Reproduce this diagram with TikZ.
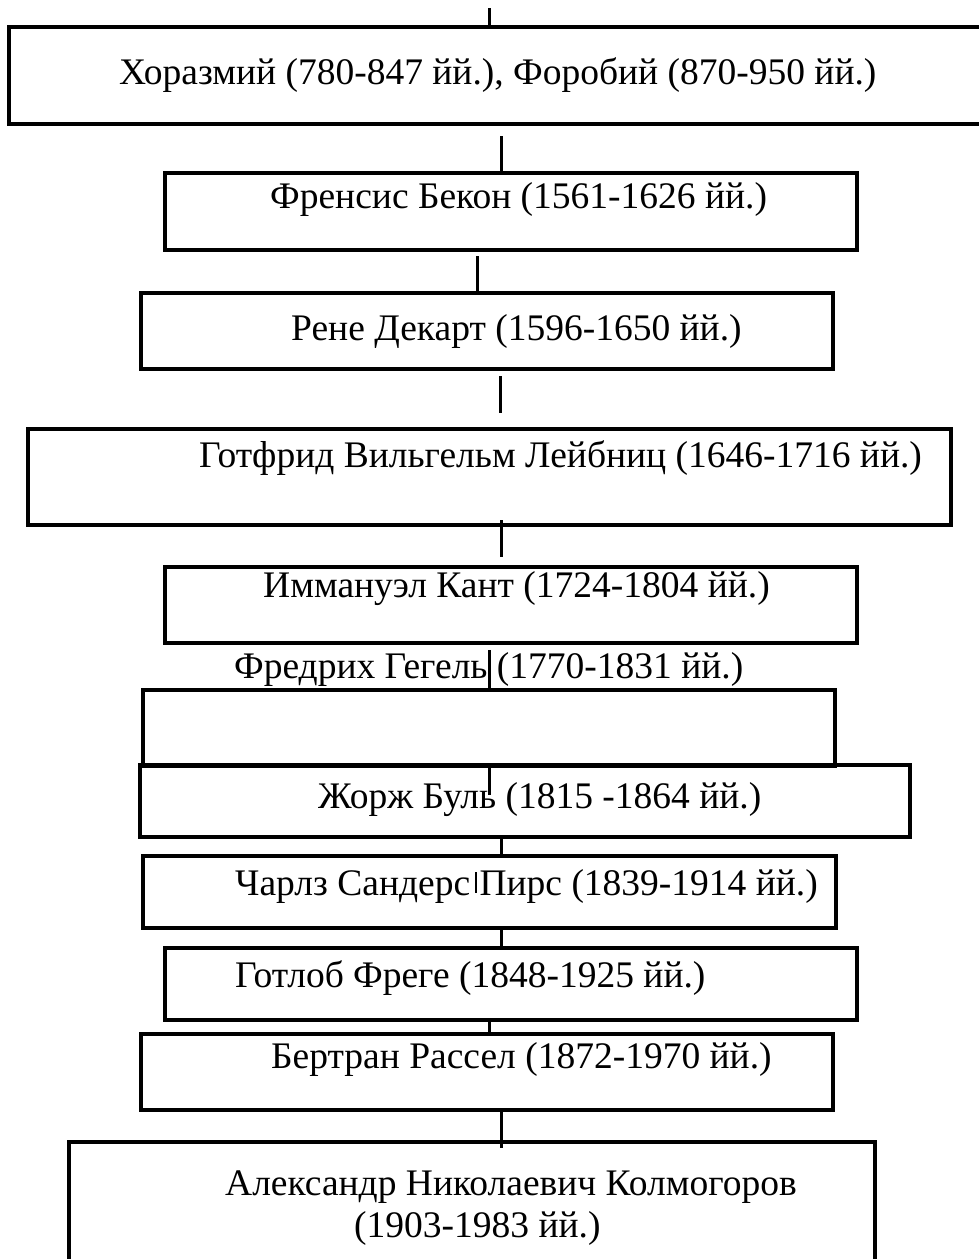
\documentclass[tikz,border=0pt]{standalone}
\usepackage{fontspec}
\setmainfont{Liberation Serif}
\begin{document}
\begin{tikzpicture}[x=1pt,y=-1pt,
  box/.style={draw=black,line width=4pt,rectangle,inner sep=0pt},
  txt/.style={anchor=base west,inner sep=0pt,font=\fontsize{37.5}{42}\selectfont},
  conn/.style={draw=black,line width=3pt},
  thinbar/.style={draw=black,line width=1.2pt}]
\useasboundingbox (0,0) rectangle (979,1259);
% boxes: (left,top) rectangle (right,bottom)
\newcommand{\mybox}[5]{\node[box,minimum width={#4-#2},minimum height={#5-#3}] (#1) at ({(#2+#4)/2},{(#3+#5)/2}) {};}
\mybox{b1}{9}{27}{995}{124}
\mybox{b2}{165}{173}{857}{250}
\mybox{b3}{141}{293}{833}{369}
\mybox{b4}{28}{429}{951}{525}
\mybox{b5}{165}{567}{857}{643}
\mybox{b6}{143}{690}{835}{766}
\mybox{b7}{140}{765}{910}{837}
\mybox{b8}{143}{856}{836}{928}
\mybox{b9}{165}{948}{857}{1020}
\mybox{b10}{141}{1034}{833}{1110}
\mybox{b11}{69}{1142}{875}{1285}
% texts
\node[txt] (t1) at (119,84) {Хоразмий (780-847 йй.), Форобий (870-950 йй.)};
\node[txt] (t2) at (270,208) {Френсис Бекон (1561-1626 йй.)};
\node[txt] (t3) at (291,340) {Рене Декарт (1596-1650 йй.)};
\node[txt] (t4) at (199,467) {Готфрид Вильгельм Лейбниц (1646-1716 йй.)};
\node[txt] (t5) at (263,597) {Иммануэл Кант (1724-1804 йй.)};
\node[txt] (t6) at (234,678) {Фредрих Гегель (1770-1831 йй.)};
\node[txt] (t7) at (318,808) {Жорж Буль (1815 -1864 йй.)};
\node[txt] (t8) at (235,895) {Чарлз Сандерс Пирс (1839-1914 йй.)};
\node[txt] (t9) at (235,987) {Готлоб Фреге (1848-1925 йй.)};
\node[txt] (t10) at (271,1068) {Бертран Рассел (1872-1970 йй.)};
\node[txt] (t11a) at (225,1195) {Александр Николаевич Колмогоров};
\node[txt] (t11b) at (354,1237) {(1903-1983 йй.)};
% connector end points
\coordinate (c0a) at (489,8);   \coordinate (c0b) at (489,28);
\coordinate (c1a) at (501,136); \coordinate (c1b) at (501,173);
\coordinate (c2a) at (477,256); \coordinate (c2b) at (477,293);
\coordinate (c3a) at (500,376); \coordinate (c3b) at (500,413);
\coordinate (c4a) at (501,520); \coordinate (c4b) at (501,557);
\coordinate (c5a) at (489,650); \coordinate (c5b) at (489,690);
\coordinate (c6a) at (489,766); \coordinate (c6b) at (489,795);
\coordinate (c7a) at (501,837); \coordinate (c7b) at (501,856);
\coordinate (c8a) at (501,928); \coordinate (c8b) at (501,948);
\coordinate (c9a) at (489,1020); \coordinate (c9b) at (489,1034);
\coordinate (c10a) at (501,1110); \coordinate (c10b) at (501,1148);
\coordinate (pa) at (476,872); \coordinate (pb) at (476,893);
\foreach \i in {0,...,10} {\draw[conn] (c\i a) -- (c\i b);}
\draw[thinbar] (pa) -- (pb);
\end{tikzpicture}
\end{document}
